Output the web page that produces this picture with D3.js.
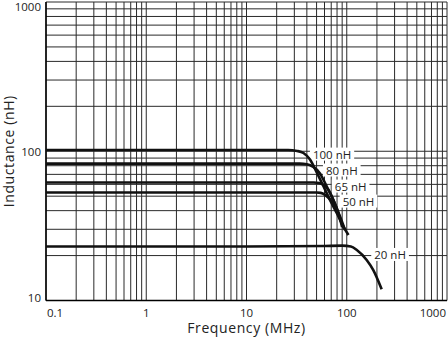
<!DOCTYPE html>
<html>
<head>
<meta charset="utf-8">
<script src="https://cdn.jsdelivr.net/npm/d3@7"></script>
<style>
  body { margin: 0; background: #fff; }
  svg text { font-family: "Open Sans", "Noto Sans", sans-serif; fill: #222; }
</style>
</head>
<body>
<div id="chart"></div>
<script>
// series: [frequency MHz, inductance nH]
const names = ["100 nH", "80 nH", "65 nH", "50 nH", "20 nH"];
const curve100 = [[0.1,102],[26,102],[32,100.5],[37,97.3],[43,88],[50,72.5],[58.4,58.5],[68,47.2],[79.4,38.6],[92.6,31.3],[104,27.5]];
const curve80 = [[0.1,82.6],[34,82.6],[40,81.8],[46.4,78.5],[54.1,71],[63.1,58.1],[73.5,47.2],[85.7,36.5],[96.2,29.7]];
const curve65 = [[0.1,61.8],[47,61.8],[53,61.2],[58.4,59.6],[65.5,55.2],[73.5,47.2],[82.4,38.6],[90,31]];
const curve50 = [[0.1,52.9],[50,52.9],[55,52.6],[60.7,51],[70.8,46],[79.4,40.5],[89.1,33.1],[93,30.5]];
const curve20 = [[0.1,23],[10,23],[60,23.2],[90,23.3],[110,23],[126,21.8],[158,18.7],[184,16],[223,11.9]];
const curves = [curve100, curve80, curve65, curve50, curve20];
// label anchors [frequency, inductance]
const labelPos = [[46,95],[62,74.3],[76,58],[91,46],[188,20.2]];
const xTicks = [0.1, 1, 10, 100, 1000];
const yTicks = [10, 100, 1000];

const width = 448, height = 342;
const margin = {left: 46, right: 1, top: 2, bottom: 42};

const svg = d3.select("#chart").append("svg")
  .attr("width", width).attr("height", height);

const x = d3.scaleLog().domain([0.1, 1000]).range([margin.left, width - margin.right]);
const y = d3.scaleLog().domain([10, 1000]).range([height - margin.bottom + 0.5, margin.top]);

// grid lines 1..9 per decade
const minorX = [], minorY = [];
for (let d = -1; d < 3; d++) for (let m = 1; m < 10; m++) minorX.push(m * Math.pow(10, d));
minorX.push(1000);
for (let d = 1; d < 3; d++) for (let m = 1; m < 10; m++) minorY.push(m * Math.pow(10, d));
minorY.push(1000);

const grid = svg.append("g");
grid.selectAll(".vx").data(minorX).enter().append("line")
  .attr("x1", d => x(d)).attr("x2", d => x(d))
  .attr("y1", y(10)).attr("y2", y(1000))
  .attr("stroke", "#2a2a2a").attr("stroke-width", 1);
grid.selectAll(".hy").data(minorY).enter().append("line")
  .attr("y1", d => y(d)).attr("y2", d => y(d))
  .attr("x1", x(0.1)).attr("x2", x(1000))
  .attr("stroke", "#2a2a2a").attr("stroke-width", 1);

// axes frame
svg.append("line").attr("x1", x(0.1)).attr("x2", x(0.1)).attr("y1", y(10)).attr("y2", y(1000))
  .attr("stroke", "#000").attr("stroke-width", 1.5);
svg.append("line").attr("x1", x(0.1)).attr("x2", x(1000)).attr("y1", y(10)).attr("y2", y(10))
  .attr("stroke", "#000").attr("stroke-width", 1.5);

// labels with white background (under the curves)
const lab = svg.selectAll(".lab").data(names).enter().append("g")
  .attr("transform", (d, i) => `translate(${x(labelPos[i][0])},${y(labelPos[i][1])})`);
lab.append("text").text(d => d)
  .attr("font-size", 11.5).attr("dy", "0.35em");
lab.each(function() {
  const g = d3.select(this);
  const bb = g.select("text").node().getBBox();
  g.insert("rect", "text").attr("x", bb.x - 3).attr("y", bb.y + 1)
    .attr("width", bb.width + 6).attr("height", bb.height - 2).attr("fill", "#fff");
});

// curves
const line = d3.line().x(d => x(d[0])).y(d => y(d[1])).curve(d3.curveMonotoneX);
svg.selectAll(".curve").data(curves).enter().append("path")
  .attr("d", d => line(d))
  .attr("fill", "none").attr("stroke", "#111").attr("stroke-width", 2.6);

// tick labels
svg.selectAll(".xt").data(xTicks).enter().append("text")
  .attr("x", (d, i) => i === 0 ? x(d) + 1 : i === xTicks.length - 1 ? x(d) - 1 : x(d))
  .attr("y", y(10) + 16)
  .attr("text-anchor", (d, i) => i === 0 ? "start" : i === xTicks.length - 1 ? "end" : "middle")
  .attr("font-size", 11.5)
  .text(d => d);
svg.selectAll(".yt").data(yTicks).enter().append("text")
  .attr("x", x(0.1) - 5).attr("y", (d, i) => y(d) + (i === 2 ? 5 : i === 1 ? 1 : -3))
  .attr("dy", "0.35em").attr("text-anchor", "end")
  .attr("font-size", 11.5)
  .text(d => d);

// axis titles
svg.append("text").attr("x", x(10)).attr("y", 333)
  .attr("text-anchor", "middle").attr("font-size", 14).attr("letter-spacing", 0.6)
  .text("Frequency (MHz)");
svg.append("text").attr("transform", `translate(14,${y(100)}) rotate(-90)`)
  .attr("text-anchor", "middle").attr("font-size", 14).attr("letter-spacing", 0.6)
  .text("Inductance (nH)");
</script>
</body>
</html>
